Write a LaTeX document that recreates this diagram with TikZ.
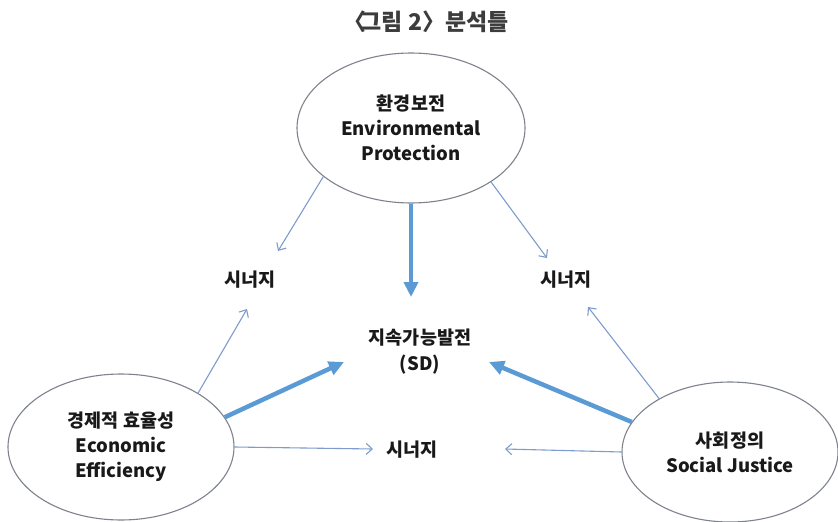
\documentclass[tikz,border=0pt]{standalone}
\usepackage{fontspec}
\setmainfont{Noto Sans CJK KR}
\usetikzlibrary{shapes.geometric,arrows.meta}
\definecolor{thickblue}{RGB}{91,155,213}
\definecolor{thinblue}{RGB}{125,155,205}
\definecolor{rimgray}{RGB}{125,130,140}
\definecolor{titlegray}{RGB}{60,60,60}
\definecolor{txt}{RGB}{25,25,25}
\tikzset{
  pillar/.style={ellipse, draw=rimgray, line width=1.1pt, inner sep=0pt, align=center,
    text=txt, font=\fontsize{18.5}{25}\selectfont\bfseries},
  label/.style={inner sep=0pt, align=center, text=txt, font=\fontsize{18.5}{26}\selectfont\bfseries},
  thinarrow/.style={draw=thinblue, line width=1.1pt, -{Straight Barb[length=6pt,width=11pt]}},
  thickarrow/.style={draw=thickblue, line width=4.5pt, -{Triangle[length=15pt,width=14pt]}}
}
\begin{document}
\begin{tikzpicture}[x=1pt,y=-1pt]
\useasboundingbox (0,0) rectangle (838,522);
\node[inner sep=0pt, text=titlegray, font=\fontsize{23}{26}\selectfont\bfseries] (title) at (426,22) {〈\kern-6pt 그림 2〉분석틀};

\node[pillar, minimum width=228, minimum height=150] (top) at (411,128) {환경보전\\Environmental\\Protection};
\node[pillar, minimum width=226, minimum height=146] (left) at (121,447) {경제적 효율성\\Economic\\Efficiency};
\node[pillar, minimum width=216, minimum height=140] (right) at (730,452) {사회정의\\Social Justice};

\node[label] (syn1) at (250,280) {시너지};
\node[label] (syn2) at (566,280) {시너지};
\node[label] (syn3) at (412,450) {시너지};
\node[label] (sd) at (420,352) {지속가능발전\\(SD)};

\coordinate (e1) at (278,251);
\coordinate (e2) at (547,258);
\coordinate (e3) at (411,297);
\coordinate (e4) at (247,309);
\coordinate (e5) at (344,362);
\coordinate (e6) at (373,449);
\coordinate (e7) at (588,307);
\coordinate (e8) at (489,362);
\coordinate (e9) at (505,449);

\draw[thinarrow] (top.209) -- (e1);
\draw[thinarrow] (top.326) -- (e2);
\draw[thickarrow] (top.270) -- (e3);
\draw[thinarrow] (left.35) -- (e4);
\draw[thickarrow] (left.16) -- (e5);
\draw[thinarrow] (left.0) -- (e6);
\draw[thinarrow] (right.143) -- (e7);
\draw[thickarrow] (right.163) -- (e8);
\draw[thinarrow] (right.180) -- (e9);
\end{tikzpicture}
\end{document}
